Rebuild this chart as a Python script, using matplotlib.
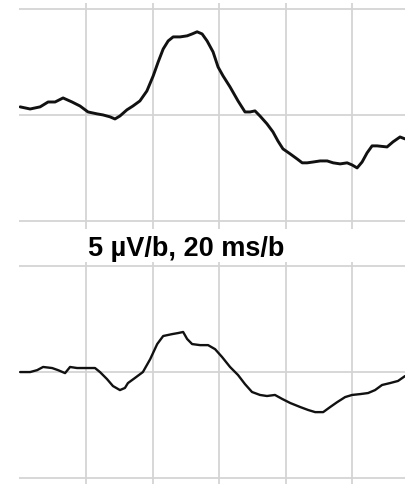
import matplotlib.pyplot as plt

# time (ms) and amplitude (uV)
t_top = [0.2, 3.2, 6.2, 8.6, 10.7, 13.1, 15.8, 18.2, 20.6, 23.3, 25.1, 27.2, 28.7, 30.2,
         32.3, 34.1, 36.2, 38.3, 40.2, 41.7, 43.2, 44.7, 46.2, 48.3, 50.4, 51.9, 53.4,
         54.9, 56.4, 58.2, 59.7, 61.2, 63.3, 65.7, 67.8, 69.3, 70.8, 72.3, 74.4, 76.2,
         77.7, 79.2, 81.4, 83.5, 85.0, 86.5, 88.3, 90.4, 92.5, 94.3, 96.4, 98.5, 100.0,
         101.5, 103.0, 104.5, 106.0, 107.5, 110.5, 112.3, 114.4, 115.9]
v_top = [0.38, 0.28, 0.38, 0.61, 0.61, 0.80, 0.61, 0.42, 0.14, 0.05,
         0.0, -0.09, -0.19, -0.05, 0.24, 0.42, 0.66, 1.13, 1.84, 2.50,
         3.11, 3.49, 3.68, 3.68, 3.73, 3.82, 3.92, 3.82, 3.49, 2.97,
         2.26, 1.84, 1.32, 0.66, 0.14, 0.14, 0.19, -0.05, -0.42, -0.80,
         -1.23, -1.60, -1.84, -2.08, -2.26, -2.26, -2.22, -2.17, -2.17, -2.26,
         -2.31, -2.26, -2.36, -2.50, -2.22, -1.79, -1.46, -1.46, -1.51, -1.27,
         -1.04, -1.13]

t_bot = [0.2, 3.2, 5.3, 7.1, 9.8, 11.6, 13.7, 15.2, 17.3, 20.3, 22.7, 24.2, 26.3, 28.1,
         30.2, 31.7, 32.6, 34.7, 37.1, 39.3, 41.4, 43.2, 45.9, 47.7, 49.2, 50.4, 51.9,
         54.3, 56.7, 58.8, 60.9, 63.3, 65.7, 67.8, 69.9, 72.3, 74.4, 76.8, 79.0, 81.4,
         84.4, 86.8, 88.9, 91.3, 93.4, 95.5, 97.9, 100.0, 102.4, 104.8, 106.9, 109.0,
         111.4, 113.8, 115.9]
v_bot = [0.0, 0.0, 0.09, 0.24, 0.19, 0.09, -0.05, 0.24, 0.19, 0.19,
         0.19, 0.0, -0.33, -0.66, -0.85, -0.75, -0.52, -0.28, 0.0, 0.61,
         1.32, 1.70, 1.79, 1.84, 1.89, 1.56, 1.32, 1.27, 1.27, 1.08,
         0.71, 0.24, -0.14, -0.57, -0.94, -1.08, -1.13, -1.08, -1.27, -1.46,
         -1.65, -1.79, -1.89, -1.89, -1.65, -1.42, -1.18, -1.08, -1.04, -0.99,
         -0.85, -0.61, -0.52, -0.42, -0.19]

x_grid = [20, 40, 60, 80, 100]
y_grid = [-5, 0, 5]
scale_label = "5 µV/b, 20 ms/b"

fig = plt.figure(figsize=(4.06, 4.85), dpi=100)

ax1 = fig.add_axes([0.048, 0.5258, 0.952, 0.466])
ax2 = fig.add_axes([0.048, 0.0, 0.952, 0.4577])

for ax, t, v, lw, yl in [(ax1, t_top, v_top, 2.1, (-5.38, 5.28)),
                         (ax2, t_bot, v_bot, 1.7, (-5.28, 5.19))]:
    ax.plot(t, v, color='#111111', lw=lw, solid_joinstyle='round', solid_capstyle='round')
    ax.set_xlim(0, 116.2)
    ax.set_ylim(*yl)
    ax.set_xticks(x_grid)
    ax.set_yticks(y_grid)
    ax.grid(True, color='#d4d4d4', lw=1.3)
    ax.set_axisbelow(True)
    ax.tick_params(length=0, labelbottom=False, labelleft=False)
    for s in ax.spines.values():
        s.set_visible(False)

fig.text(186.5 / 406, 1 - 256 / 485, scale_label, ha='center', va='baseline',
         fontsize=19.5, fontweight='bold', family='Liberation Sans')

fig.savefig('out.png', dpi=100)
